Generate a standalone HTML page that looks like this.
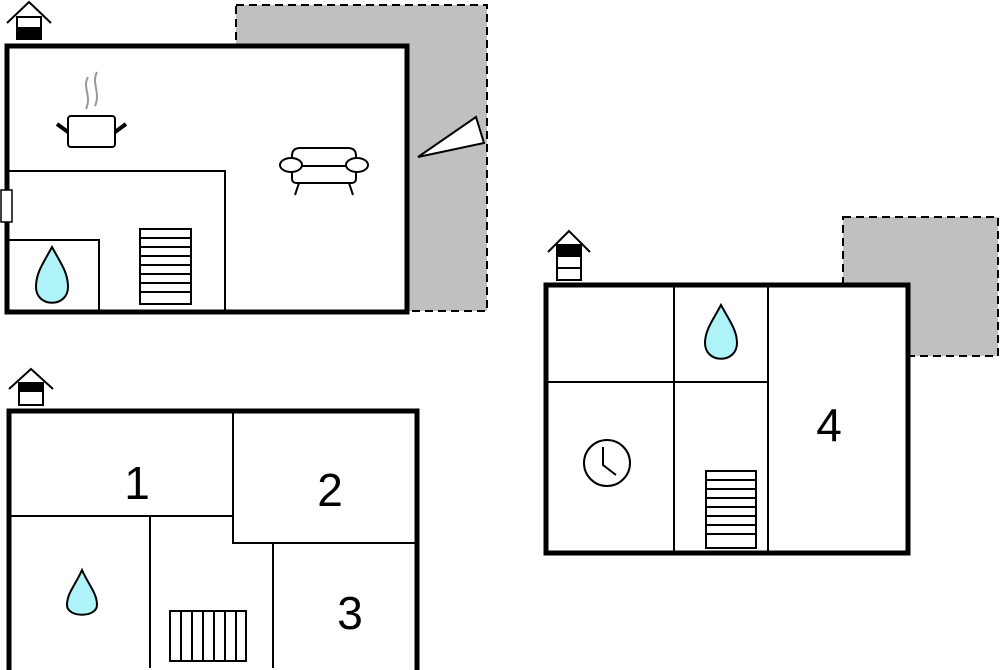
<!DOCTYPE html>
<html><head><style>body{margin:0;background:#fff}svg{display:block}</style></head><body>
<svg width="1000" height="670" viewBox="0 0 1000 670" xmlns="http://www.w3.org/2000/svg" font-family="Liberation Sans, sans-serif">
<path d="M236,5 H487 V311 H407 V45 H236 Z" fill="#c0c0c0" stroke="#000" stroke-width="2" stroke-dasharray="8,5"/>
<rect x="843" y="217" width="155" height="139" fill="#c0c0c0" stroke="#000" stroke-width="2" stroke-dasharray="8,5"/>
<polygon points="418,157 476,117 484,143" fill="#fff" stroke="#000" stroke-width="2"/>
<rect x="7" y="46" width="400" height="266" fill="#fff" stroke="#000" stroke-width="5"/>
<g stroke="#000" stroke-width="2" fill="none">
<path d="M8,171 H225 V310"/>
<path d="M8,240 H99 V310"/>
</g>
<rect x="1" y="190" width="11" height="32" fill="#fff" stroke="#000" stroke-width="1.5"/>
<g stroke="#000" stroke-width="2" fill="#fff">
<rect x="140" y="229" width="51" height="75"/>
<path d="M140,238H191M140,247H191M140,256H191M140,265H191M140,274H191M140,283H191M140,292H191" fill="none"/>
</g>
<path d="M52,247 C44,262 36,272 36,287 C36,308 68,308 68,287 C68,272 60,262 52,247Z" fill="#aef3f8" stroke="#000" stroke-width="2"/>
<g stroke="#000" stroke-width="2" fill="#fff">
<rect x="68" y="116" width="47" height="31" rx="3"/>
</g>
<path d="M57,124 L68,132 M126,124 L115,132" stroke="#000" stroke-width="4"/>
<path d="M88,77 C82,88 92,95 86,109 M97,72 C91,84 101,92 95,106" stroke="#999" stroke-width="2" fill="none"/>
<g stroke="#000" stroke-width="2" fill="#fff">
<path d="M292,168 V156 Q292,148 300,148 H348 Q356,148 356,156 V168"/>
<rect x="292" y="166" width="64" height="17" rx="4"/>
<ellipse cx="291" cy="165" rx="11" ry="7"/>
<ellipse cx="357" cy="165" rx="11" ry="7"/>
<path d="M299,183 L295,195 M349,183 L353,195" fill="none"/>
</g>
<g stroke="#000" stroke-width="2" fill="#fff">
<path d="M7,23 L29,2 L51,23" fill="none"/>
<rect x="17" y="17" width="24" height="22"/>
<rect x="17" y="28" width="24" height="11" fill="#000"/>
</g>
<rect x="9" y="411" width="408" height="262" fill="#fff" stroke="#000" stroke-width="5"/>
<g stroke="#000" stroke-width="2" fill="none">
<path d="M10,516 H233 M233,412 V543 H416 M150,516 V668 M273,543 V668"/>
</g>
<text x="137" y="499" font-size="46" text-anchor="middle">1</text>
<text x="330" y="506" font-size="46" text-anchor="middle">2</text>
<text x="350" y="629" font-size="46" text-anchor="middle">3</text>
<path d="M82,570 C76,584 67,593 67,605 C67,618 97,618 97,605 C97,593 88,584 82,570Z" fill="#aef3f8" stroke="#000" stroke-width="2"/>
<g stroke="#000" stroke-width="2" fill="#fff">
<rect x="170" y="611" width="76" height="50"/>
<path d="M181,611V661M192,611V661M203,611V661M214,611V661M225,611V661M236,611V661" fill="none"/>
</g>
<g stroke="#000" stroke-width="2" fill="#fff">
<path d="M9,389 L31,369 L53,389" fill="none"/>
<rect x="19" y="383" width="24" height="22"/>
<rect x="19" y="383" width="24" height="8" fill="#000"/>
</g>
<rect x="546" y="285" width="362" height="268" fill="#fff" stroke="#000" stroke-width="5"/>
<g stroke="#000" stroke-width="2" fill="none">
<path d="M674,286 V552 M768,286 V552 M547,382 H768"/>
</g>
<text x="829" y="441" font-size="46" text-anchor="middle">4</text>
<path d="M721,305 C713,320 705,330 705,343 C705,364 737,364 737,343 C737,330 729,320 721,305Z" fill="#aef3f8" stroke="#000" stroke-width="2"/>
<circle cx="607" cy="463" r="23" fill="#fff" stroke="#000" stroke-width="2"/>
<path d="M603,447 V465 L616,475" stroke="#000" stroke-width="2" fill="none"/>
<g stroke="#000" stroke-width="2" fill="#fff">
<rect x="706" y="471" width="50" height="77"/>
<path d="M706,480H756M706,489H756M706,498H756M706,507H756M706,516H756M706,525H756M706,534H756" fill="none"/>
</g>
<g stroke="#000" stroke-width="2" fill="#fff">
<path d="M548,252 L569,231 L590,252" fill="none"/>
<rect x="557" y="245" width="24" height="35"/>
<rect x="557" y="245" width="24" height="11" fill="#000"/>
<path d="M557,268 H581" fill="none"/>
</g>
</svg>
</body></html>
